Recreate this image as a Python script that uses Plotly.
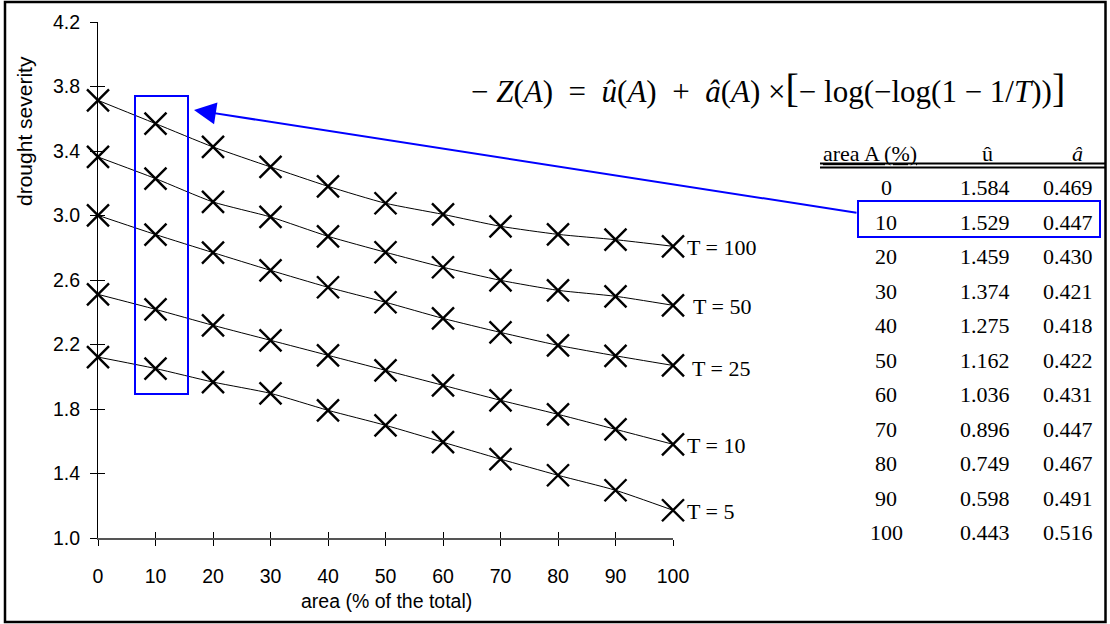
import plotly.graph_objects as go

# ---- data ----
area = [0, 10, 20, 30, 40, 50, 60, 70, 80, 90, 100]
sev_T100 = [3.714, 3.570, 3.425, 3.301, 3.181, 3.076, 3.007, 2.933, 2.883, 2.850, 2.809]
sev_T50 = [3.363, 3.229, 3.084, 2.991, 2.871, 2.772, 2.679, 2.598, 2.536, 2.499, 2.443]
sev_T25 = [3.001, 2.882, 2.770, 2.660, 2.555, 2.462, 2.362, 2.275, 2.195, 2.130, 2.070]
sev_T10 = [2.511, 2.418, 2.319, 2.226, 2.133, 2.040, 1.947, 1.854, 1.767, 1.674, 1.581]
sev_T5 = [2.122, 2.051, 1.967, 1.897, 1.792, 1.699, 1.594, 1.489, 1.389, 1.296, 1.172]
series_labels = ["T = 100", "T = 50", "T = 25", "T = 10", "T = 5"]
series = [sev_T100, sev_T50, sev_T25, sev_T10, sev_T5]

table_area = ["0", "10", "20", "30", "40", "50", "60", "70", "80", "90", "100"]
table_u = ["1.584", "1.529", "1.459", "1.374", "1.275", "1.162", "1.036", "0.896", "0.749", "0.598", "0.443"]
table_a = ["0.469", "0.447", "0.430", "0.421", "0.418", "0.422", "0.431", "0.447", "0.467", "0.491", "0.516"]

x_ticks = [0, 10, 20, 30, 40, 50, 60, 70, 80, 90, 100]
y_ticks = [1.0, 1.4, 1.8, 2.2, 2.6, 3.0, 3.4, 3.8, 4.2]

# ---- geometry ----
W, H = 1110, 624
L, R, T, B = 98, 673, 22, 538
PW, PH = R - L, B - T


def px(xp):
    return (xp - L) / PW


def py(yp):
    return (B - yp) / PH


SANS = "Liberation Sans, Arial, sans-serif"
SERIF = "Liberation Serif, Times New Roman, serif"
BLUE = "#0000FF"

fig = go.Figure()
for ys in series:
    fig.add_trace(go.Scatter(
        x=area, y=ys, mode="lines+markers",
        line=dict(color="black", width=1, shape="spline", smoothing=0.6),
        marker=dict(symbol="x-thin", size=22, line=dict(color="black", width=2.4)),
        cliponaxis=False, showlegend=False, hoverinfo="skip",
    ))

# invisible trace on overlay axes (for crossing ticks)
fig.add_trace(go.Scatter(x=[0], y=[1.0], xaxis="x2", yaxis="y2", mode="markers",
                         marker=dict(opacity=0), showlegend=False, hoverinfo="skip"))

annotations = []
# T labels at end of each series
t_xshift = [12, 18, 17, 12, 12]
t_yshift = [-1, -1, -3, -1, -1]
for lab, ys, xs, sh in zip(series_labels, series, t_xshift, t_yshift):
    annotations.append(dict(x=100, y=ys[-1], xref="x", yref="y", text=lab, showarrow=False,
                            xanchor="left", yanchor="middle", xshift=xs, yshift=sh,
                            font=dict(family=SERIF, size=22, color="black")))

# formula
NB = "\u00a0"
big = '<span style="font-size:40px">{}</span>'
formula = ("−" + NB + "<i>Z</i>(<i>A</i>)" + NB * 2 + "=" + NB * 2 + "<i>û</i>(<i>A</i>)" + NB * 2 + "+" + NB * 2 +
           "<i>â</i>(<i>A</i>)" + NB + "×" + big.format("[") + "−" + NB + "log(−log(1" + NB + "−" + NB +
           "1/<i>T</i>))" + big.format("]"))
annotations.append(dict(
    x=px(768), y=py(88), xref="paper", yref="paper", showarrow=False,
    xanchor="center", yanchor="middle", text=formula,
    font=dict(family=SERIF, size=31, color="black")))

# table header
annotations.append(dict(x=px(821), y=py(153), xref="paper", yref="paper", showarrow=False,
                        xanchor="left", yanchor="middle", text="<u>area A (%)</u>",
                        font=dict(family=SERIF, size=22, color="black")))
annotations.append(dict(x=px(987), y=py(153), xref="paper", yref="paper", showarrow=False,
                        xanchor="center", yanchor="middle", text="û",
                        font=dict(family=SERIF, size=22, color="black")))
annotations.append(dict(x=px(1077), y=py(153), xref="paper", yref="paper", showarrow=False,
                        xanchor="center", yanchor="middle", text="<i>â</i>",
                        font=dict(family=SERIF, size=22, color="black")))

row0, drow = 187.5, 34.5
for i, (a0, u0, b0) in enumerate(zip(table_area, table_u, table_a)):
    yy = py(row0 + i * drow)
    annotations.append(dict(x=px(886), y=yy, xref="paper", yref="paper", showarrow=False,
                            xanchor="center", yanchor="middle", text=a0,
                            font=dict(family=SERIF, size=22, color="black")))
    annotations.append(dict(x=px(985), y=yy, xref="paper", yref="paper", showarrow=False,
                            xanchor="center", yanchor="middle", text=u0,
                            font=dict(family=SERIF, size=22, color="black")))
    annotations.append(dict(x=px(1068), y=yy, xref="paper", yref="paper", showarrow=False,
                            xanchor="center", yanchor="middle", text=b0,
                            font=dict(family=SERIF, size=22, color="black")))

# axis titles
annotations.append(dict(x=px(386), y=py(601), xref="paper", yref="paper", showarrow=False,
                        xanchor="center", yanchor="middle", text="area (% of the total)",
                        font=dict(family=SANS, size=19.5, color="black")))
annotations.append(dict(x=px(24), y=py(131), xref="paper", yref="paper", showarrow=False,
                        xanchor="center", yanchor="middle", text="drought severity", textangle=-90,
                        font=dict(family=SANS, size=21, color="black")))

# arrow (tail given as pixel offset from the tip)
tip_x, tip_y, tail_x, tail_y = 194, 110, 858, 213
annotations.append(dict(x=px(tip_x), y=py(tip_y), xref="paper", yref="paper",
                        ax=tail_x - tip_x, ay=tail_y - tip_y, axref="pixel", ayref="pixel",
                        text="", showarrow=True, arrowhead=2, arrowsize=2.2, arrowwidth=2,
                        arrowcolor=BLUE, standoff=0))

shapes = [
    # outer border
    dict(type="rect", xref="paper", yref="paper", x0=px(5), x1=px(1105.5), y0=py(2), y1=py(622),
         line=dict(color="black", width=2.5)),
    # blue box around A=10 column
    dict(type="rect", xref="paper", yref="paper", x0=px(135), x1=px(188), y0=py(96), y1=py(394),
         line=dict(color=BLUE, width=2)),
    # blue box around table row 10
    dict(type="rect", xref="paper", yref="paper", x0=px(858), x1=px(1100), y0=py(201), y1=py(237),
         line=dict(color=BLUE, width=2)),
    # double line under table header
    dict(type="line", xref="paper", yref="paper", x0=px(820), x1=px(1106), y0=py(163.5), y1=py(163.5),
         line=dict(color="black", width=2.2)),
    dict(type="line", xref="paper", yref="paper", x0=px(820), x1=px(1106), y0=py(167.5), y1=py(167.5),
         line=dict(color="black", width=2.2)),
]

fig.update_layout(
    width=W, height=H, autosize=False,
    margin=dict(l=L, r=W - R, t=T, b=H - B, pad=0),
    paper_bgcolor="white", plot_bgcolor="white",
    showlegend=False,
    xaxis=dict(range=[0, 100], tickvals=x_ticks, ticktext=[str(v) for v in x_ticks],
               showgrid=False, zeroline=False, showline=True, linecolor="#555555", linewidth=2,
               ticks="outside", ticklen=6, tickwidth=1, tickcolor="black",
               ticklabelstandoff=14,
               tickfont=dict(family=SANS, size=19.5, color="black"), fixedrange=True),
    yaxis=dict(range=[1.0, 4.2], tickvals=y_ticks, ticktext=[f"{v:.1f}" for v in y_ticks],
               showgrid=False, zeroline=False, showline=True, linecolor="black", linewidth=1,
               ticks="outside", ticklen=7, tickwidth=1, tickcolor="black",
               ticklabelstandoff=6,
               tickfont=dict(family=SANS, size=19.5, color="black"), fixedrange=True),
    xaxis2=dict(range=[0, 100], overlaying="x", side="bottom", tickvals=x_ticks,
                showticklabels=False, showgrid=False, zeroline=False, showline=False,
                ticks="inside", ticklen=6, tickwidth=1, tickcolor="black", fixedrange=True),
    yaxis2=dict(range=[1.0, 4.2], overlaying="y", side="left", tickvals=y_ticks,
                showticklabels=False, showgrid=False, zeroline=False, showline=False,
                ticks="inside", ticklen=7, tickwidth=1, tickcolor="black", fixedrange=True),
    annotations=annotations,
    shapes=shapes,
)

fig.write_html("out.html")
